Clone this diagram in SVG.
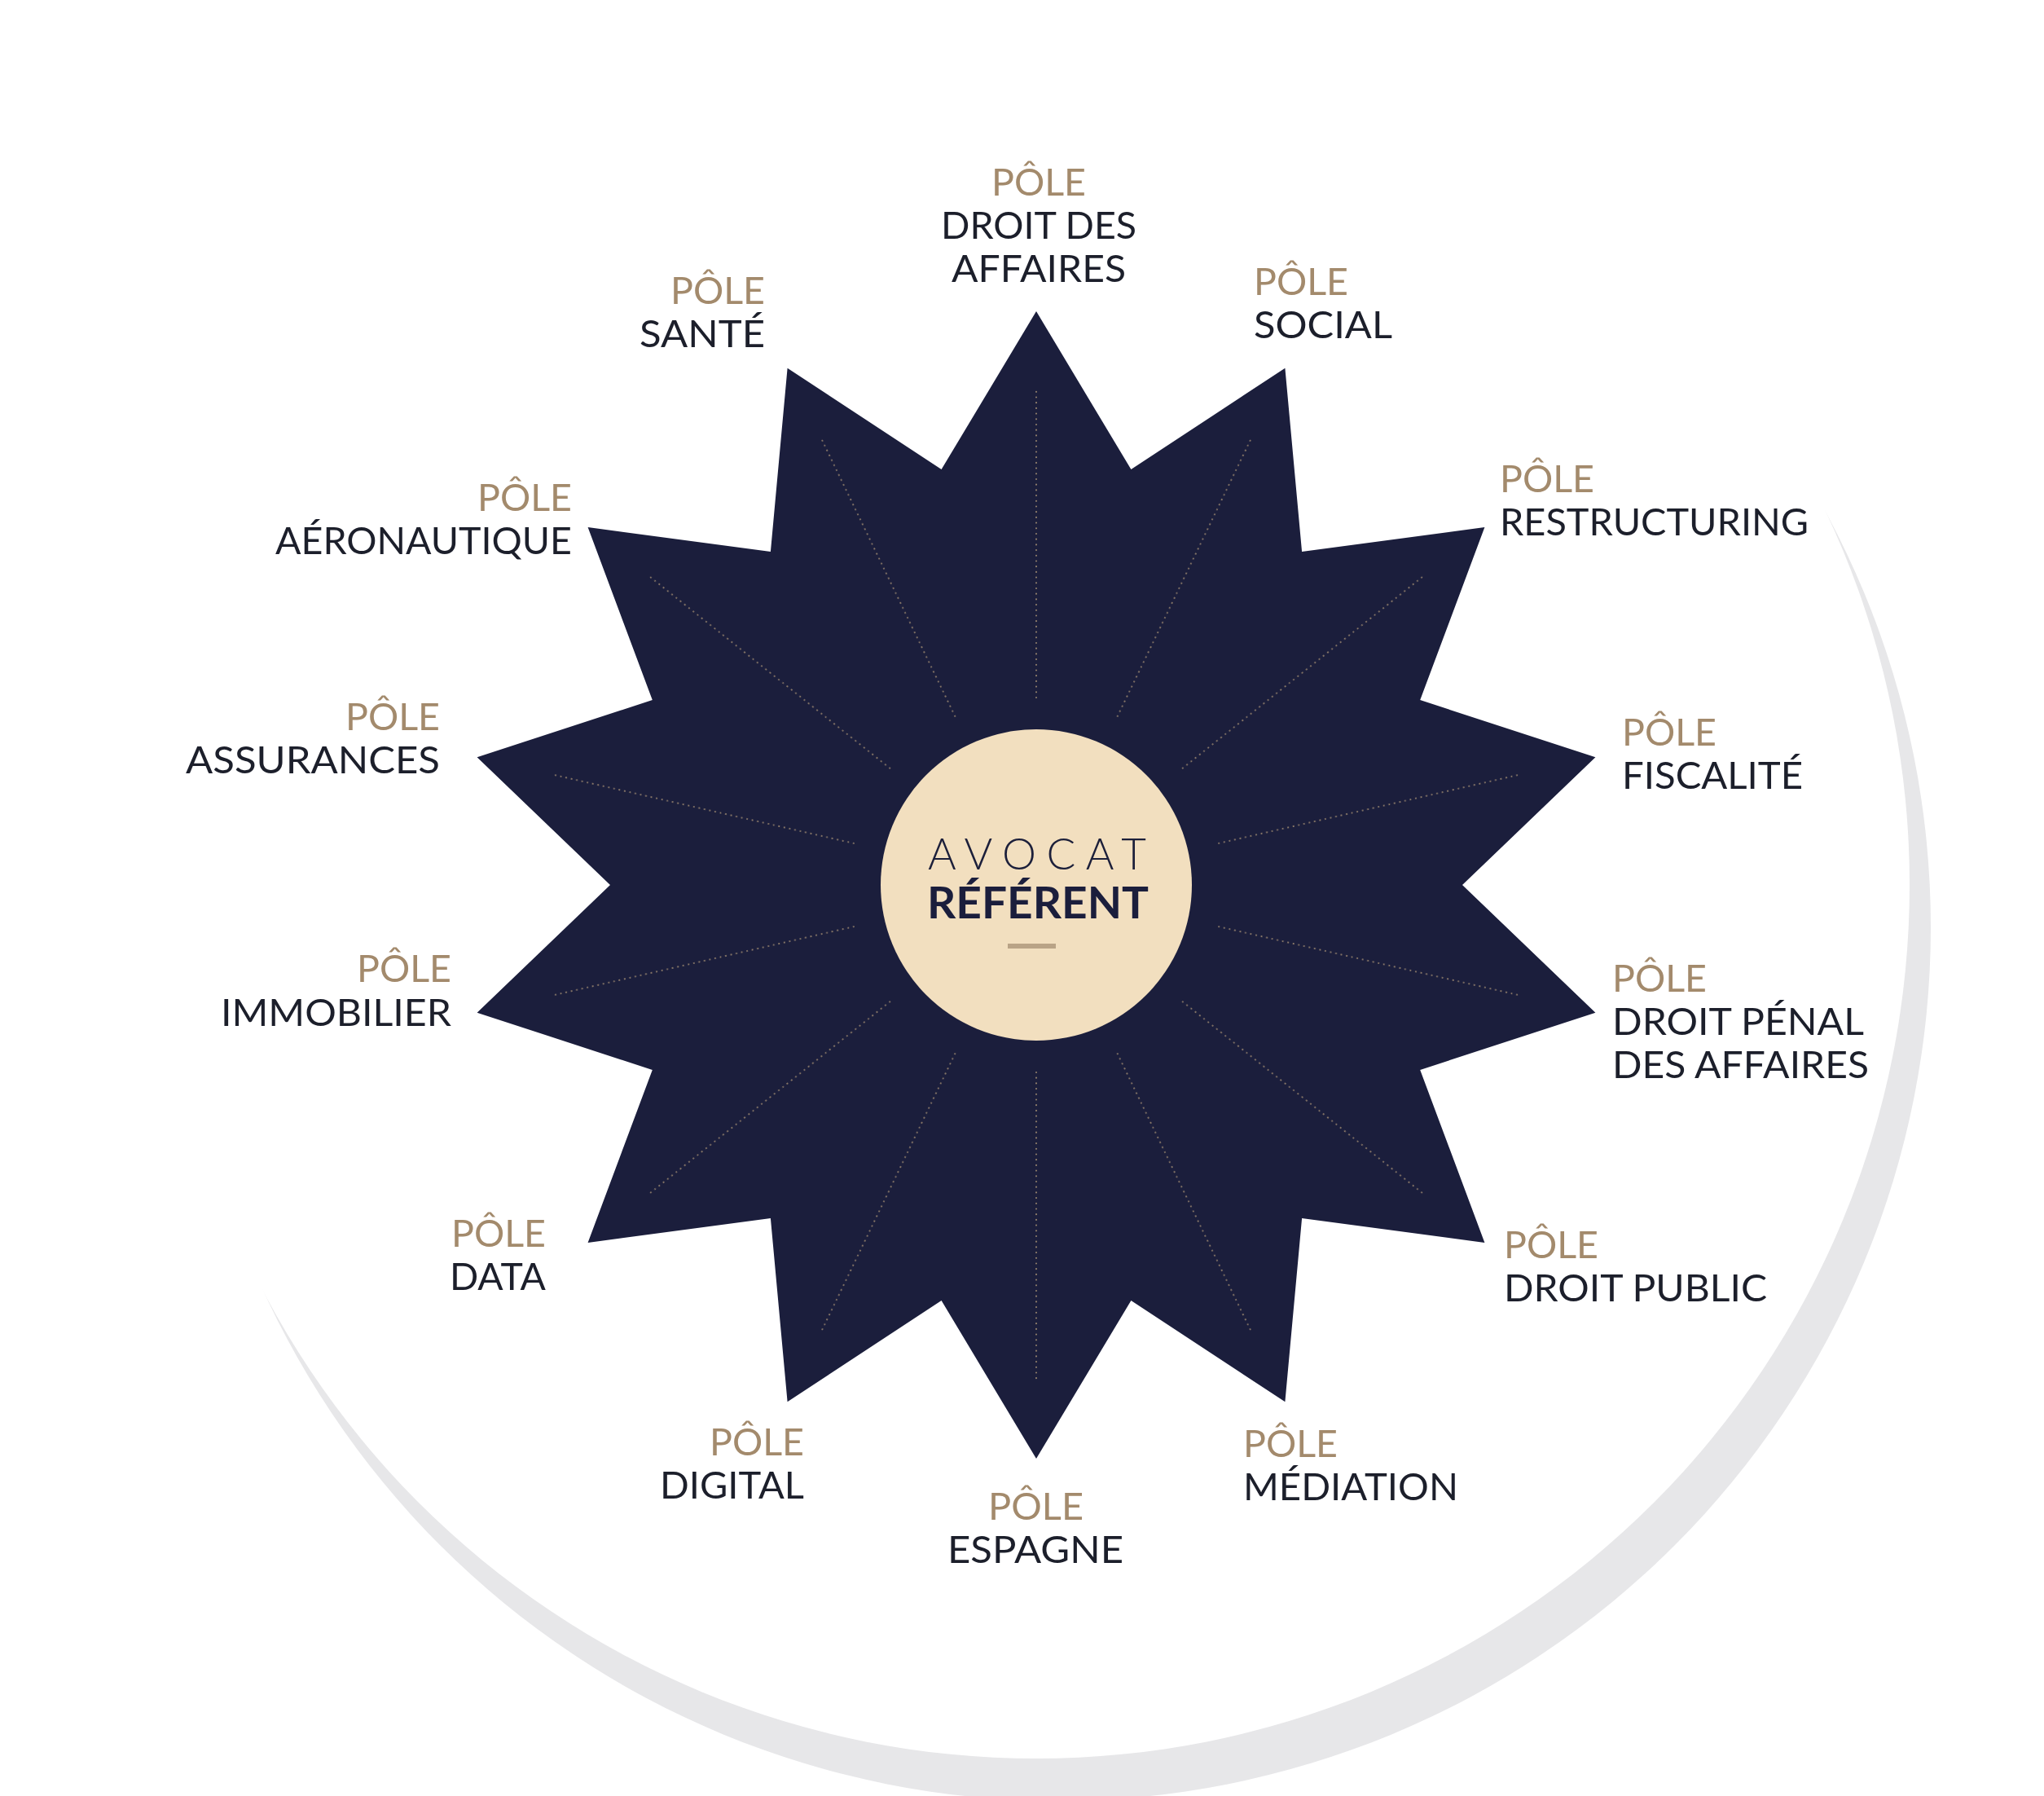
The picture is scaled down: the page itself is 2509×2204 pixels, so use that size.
<svg xmlns="http://www.w3.org/2000/svg" width="2509" height="2204" viewBox="0 0 2509 2204">
  <style>
    .pole { font-family: Lato, "Liberation Sans", sans-serif; font-size: 46px; font-weight: 400; fill: #a38a6c; }
    .name { font-family: Lato, "Liberation Sans", sans-serif; font-size: 46px; fill: #1c1f2b; }
    .ray { stroke: #a38e74; stroke-width: 2.2; stroke-linecap: round; stroke-dasharray: 0 6.7; fill: none; opacity: 0.85; }
  </style>
  <defs>
    <line id="rayline" x1="1272" y1="856" x2="1272" y2="475"/>
  </defs>
  <rect width="2509" height="2204" fill="#ffffff"/>
  <g id="backdrop">
    <circle cx="1298" cy="1138" r="1072" fill="#e7e7e9"/>
    <circle cx="1272" cy="1086" r="1072" fill="#ffffff"/>
  </g>
  <g id="star">
    <polygon fill="#1b1e3c" points="1272,382 1388.4,576.1 1577.4,451.7 1598.1,677.1 1822.4,647.1 1743.2,859.1 1958.4,929.3 1795,1086 1958.4,1242.7 1743.2,1312.9 1822.4,1524.9 1598.1,1494.9 1577.4,1720.3 1388.4,1595.9 1272,1790 1155.6,1595.9 966.6,1720.3 945.9,1494.9 721.6,1524.9 800.8,1312.9 585.6,1242.7 749,1086 585.6,929.3 800.8,859.1 721.6,647.1 945.9,677.1 966.6,451.7 1155.6,576.1"/>
  </g>
  <g id="connectors" class="ray">
    <use href="#rayline"/>
    <use href="#rayline" transform="rotate(25.7143 1272 1086)"/>
    <use href="#rayline" transform="rotate(51.4286 1272 1086)"/>
    <use href="#rayline" transform="rotate(77.1429 1272 1086)"/>
    <use href="#rayline" transform="rotate(102.857 1272 1086)"/>
    <use href="#rayline" transform="rotate(128.571 1272 1086)"/>
    <use href="#rayline" transform="rotate(154.286 1272 1086)"/>
    <use href="#rayline" transform="rotate(180 1272 1086)"/>
    <use href="#rayline" transform="rotate(205.714 1272 1086)"/>
    <use href="#rayline" transform="rotate(231.429 1272 1086)"/>
    <use href="#rayline" transform="rotate(257.143 1272 1086)"/>
    <use href="#rayline" transform="rotate(282.857 1272 1086)"/>
    <use href="#rayline" transform="rotate(308.571 1272 1086)"/>
    <use href="#rayline" transform="rotate(334.286 1272 1086)"/>
  </g>
  <g id="avocat-referent">
    <circle cx="1272" cy="1086" r="191" fill="#f2dfbf"/>
    <text x="1139" y="1067" textLength="268" lengthAdjust="spacing" style="font-family: Lato, 'Liberation Sans', sans-serif; font-size: 53px; font-weight: 300; fill: #1c1f3a;">AVOCAT</text>
    <text x="1138" y="1127" textLength="272" lengthAdjust="spacingAndGlyphs" style="font-family: Lato, 'Liberation Sans', sans-serif; font-size: 53px; font-weight: 700; fill: #1b1e3c;">RÉFÉRENT</text>
    <rect x="1237" y="1158" width="59" height="6" fill="#b9a386"/>
  </g>
  <g id="pole-droit-des-affaires">
    <text class="pole" x="1217" y="240" textLength="116" lengthAdjust="spacingAndGlyphs">PÔLE</text>
    <text class="name" x="1155" y="293" textLength="240" lengthAdjust="spacingAndGlyphs">DROIT DES</text>
    <text class="name" x="1168" y="346" textLength="214" lengthAdjust="spacingAndGlyphs">AFFAIRES</text>
  </g>
  <g id="pole-social">
    <text class="pole" x="1539" y="362" textLength="116" lengthAdjust="spacingAndGlyphs">PÔLE</text>
    <text class="name" x="1539" y="415" textLength="170" lengthAdjust="spacingAndGlyphs">SOCIAL</text>
  </g>
  <g id="pole-restructuring">
    <text class="pole" x="1841" y="604" textLength="116" lengthAdjust="spacingAndGlyphs">PÔLE</text>
    <text class="name" x="1841" y="657" textLength="379" lengthAdjust="spacingAndGlyphs">RESTRUCTURING</text>
  </g>
  <g id="pole-fiscalite">
    <text class="pole" x="1991" y="915" textLength="116" lengthAdjust="spacingAndGlyphs">PÔLE</text>
    <text class="name" x="1991" y="968" textLength="222" lengthAdjust="spacingAndGlyphs">FISCALITÉ</text>
  </g>
  <g id="pole-droit-penal">
    <text class="pole" x="1979" y="1217" textLength="116" lengthAdjust="spacingAndGlyphs">PÔLE</text>
    <text class="name" x="1979" y="1270" textLength="309" lengthAdjust="spacingAndGlyphs">DROIT PÉNAL</text>
    <text class="name" x="1979" y="1323" textLength="315" lengthAdjust="spacingAndGlyphs">DES AFFAIRES</text>
  </g>
  <g id="pole-droit-public">
    <text class="pole" x="1846" y="1544" textLength="116" lengthAdjust="spacingAndGlyphs">PÔLE</text>
    <text class="name" x="1846" y="1597" textLength="323" lengthAdjust="spacingAndGlyphs">DROIT PUBLIC</text>
  </g>
  <g id="pole-mediation">
    <text class="pole" x="1526" y="1788" textLength="116" lengthAdjust="spacingAndGlyphs">PÔLE</text>
    <text class="name" x="1526" y="1841" textLength="264" lengthAdjust="spacingAndGlyphs">MÉDIATION</text>
  </g>
  <g id="pole-espagne">
    <text class="pole" x="1213" y="1865" textLength="117" lengthAdjust="spacingAndGlyphs">PÔLE</text>
    <text class="name" x="1163" y="1918" textLength="216" lengthAdjust="spacingAndGlyphs">ESPAGNE</text>
  </g>
  <g id="pole-digital">
    <text class="pole" x="871" y="1786" textLength="116" lengthAdjust="spacingAndGlyphs">PÔLE</text>
    <text class="name" x="810" y="1839" textLength="177" lengthAdjust="spacingAndGlyphs">DIGITAL</text>
  </g>
  <g id="pole-data">
    <text class="pole" x="554" y="1530" textLength="116" lengthAdjust="spacingAndGlyphs">PÔLE</text>
    <text class="name" x="552" y="1583" textLength="118" lengthAdjust="spacingAndGlyphs">DATA</text>
  </g>
  <g id="pole-immobilier">
    <text class="pole" x="438" y="1205" textLength="116" lengthAdjust="spacingAndGlyphs">PÔLE</text>
    <text class="name" x="271" y="1259" textLength="283" lengthAdjust="spacingAndGlyphs">IMMOBILIER</text>
  </g>
  <g id="pole-assurances">
    <text class="pole" x="424" y="896" textLength="116" lengthAdjust="spacingAndGlyphs">PÔLE</text>
    <text class="name" x="228" y="949" textLength="312" lengthAdjust="spacingAndGlyphs">ASSURANCES</text>
  </g>
  <g id="pole-aeronautique">
    <text class="pole" x="586" y="627" textLength="116" lengthAdjust="spacingAndGlyphs">PÔLE</text>
    <text class="name" x="338" y="680" textLength="364" lengthAdjust="spacingAndGlyphs">AÉRONAUTIQUE</text>
  </g>
  <g id="pole-sante">
    <text class="pole" x="823" y="373" textLength="116" lengthAdjust="spacingAndGlyphs">PÔLE</text>
    <text class="name" x="785" y="426" textLength="154" lengthAdjust="spacingAndGlyphs">SANTÉ</text>
  </g>
</svg>
